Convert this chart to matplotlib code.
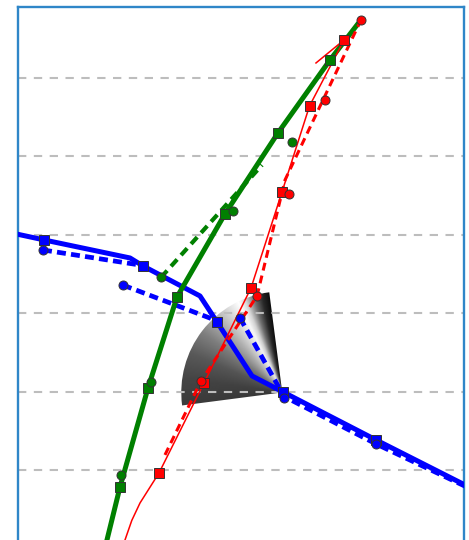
import numpy as np
import matplotlib
matplotlib.use("Agg")
import matplotlib.pyplot as plt
from matplotlib.patches import Wedge
from matplotlib.transforms import ScaledTranslation

# ---- data -------------------------------------------------------------
# blue series: solid path with square markers, dashed path with circles
blue_line_x = [-2.0, 5.93, 25.20, 28.11, 40.87, 44.68, 52.52, 59.46, 80.29, 101.3]
blue_line_y = [40.3, 39.33, 37.03, 36.01, 32.19, 28.88, 22.00, 19.96, 13.85, 7.80]
blue_sq_x = [5.93, 28.11, 44.68, 59.46, 80.29]
blue_sq_y = [39.33, 36.01, 28.88, 19.96, 13.85]
blue_dash_x = [5.71, 27.44, np.nan, 23.63, 44.23, np.nan, 49.83, 59.68, 80.29, 101.3]
blue_dash_y = [38.05, 36.13, np.nan, 33.57, 29.13, np.nan, 29.39, 19.40, 13.34, 7.67]
blue_ci_x = [5.71, 23.63, 49.83, 59.68, 80.29]
blue_ci_y = [38.05, 33.57, 29.39, 19.20, 13.34]

# green series
green_line_x = [19.1, 20.04, 22.96, 29.23, 35.72, 46.47, 58.34, 69.99, 76.04]
green_line_y = [-1.2, 1.11, 7.86, 20.47, 32.06, 42.64, 52.96, 62.25, 66.71]
green_sq_x = [22.96, 29.23, 35.72, 46.47, 58.34, 69.99]
green_sq_y = [7.86, 20.47, 32.06, 42.64, 52.96, 62.25]
green_dash_x = [32.14, 54.76]
green_dash_y = [34.55, 48.87]
green_ci_x = [23.18, 29.79, 32.14, 48.26, 61.48]
green_ci_y = [9.39, 21.17, 34.55, 42.96, 51.81]

# red series
red_line_x = [22.73, 24.08, 25.6, 27.44, 31.69, 41.77, 52.30, 59.24, 65.40, 73.13, np.nan, 66.85, 73.13]
red_line_y = [-0.94, 1.11, 3.6, 5.82, 9.64, 21.11, 33.21, 45.44, 56.39, 64.80, np.nan, 61.87, 64.80]
red_sq_x = [31.69, 41.77, 52.30, 59.24, 65.40, 73.13]
red_sq_y = [9.64, 21.11, 33.21, 45.44, 56.39, 64.80]
red_dash_x = [33.03, 41.10, 53.64, 59.91, 76.93]
red_dash_y = [11.94, 21.36, 32.19, 46.96, 67.35]
red_ci_x = [41.10, 53.64, 60.80, 68.87, 76.93]
red_ci_y = [21.36, 32.19, 45.19, 57.16, 67.35]

# shaded sector anchored on a data point
sector_center = (59.3, 19.9)
sector_theta = (97.4, 187.4)

grid_values = [0, 10, 20, 30, 40, 50, 60]

# ---- figure -----------------------------------------------------------
W, H = 469, 540
fig = plt.figure(figsize=(W / 100, H / 100), dpi=100)
left_px, right_px, top_px = 17.5, 464.0, 7.0
bottom_px = top_px + 70 * 7.85
ax = fig.add_axes([left_px / W, (H - bottom_px) / H,
                   (right_px - left_px) / W, (bottom_px - top_px) / H])
xlim = (0, 100)
ylim = (-1, 69)
ax.set_xlim(*xlim)
ax.set_ylim(*ylim)

for sp in ax.spines.values():
    sp.set_color('#2f86c8')
    sp.set_linewidth(1.7)
ax.set_xticks([])
ax.set_yticks(grid_values)
ax.tick_params(length=0, labelleft=False, labelbottom=False)
ax.set_axisbelow(True)
ax.yaxis.grid(True, color='#bdbdbd', linewidth=1.5, linestyle=(0, (4, 3.6)))

# ---- shaded sector ----------------------------------------------------
radius_in = 1.01
cx_d, cy_d = ax.transData.transform(sector_center)
R = radius_in * fig.dpi
n = 300
gx = np.linspace(cx_d - R, cx_d + R, n)
gy = np.linspace(cy_d - R, cy_d + R, n)
GX, GY = np.meshgrid(gx, gy)
ang = np.degrees(np.arctan2(GY - cy_d, GX - cx_d)) % 360
rad = np.hypot(GX - cx_d, GY - cy_d) / R
ang_pts = [95, 98, 102, 107, 112, 116, 121, 130, 143, 157, 172, 190]
val_pts = [0.02, 0.06, 0.16, 0.45, 0.85, 1.00, 0.90, 0.72, 0.50, 0.35, 0.27, 0.23]
shade = np.interp(ang, ang_pts, val_pts)
shade = shade * (0.9 + 0.1 * np.clip(rad, 0, 1))
inv = ax.transData.inverted()
(x0, y0) = inv.transform((gx[0], gy[0]))
(x1, y1) = inv.transform((gx[-1], gy[-1]))
im = ax.imshow(shade, cmap='gray', vmin=0, vmax=1, origin='lower',
               extent=(x0, x1, y0, y1), aspect='auto', zorder=0.3,
               interpolation='bilinear')
sector = Wedge((0, 0), radius_in, sector_theta[0], sector_theta[1],
               transform=fig.dpi_scale_trans +
               ScaledTranslation(sector_center[0], sector_center[1], ax.transData))
im.set_clip_path(sector)
ax.set_xlim(*xlim)
ax.set_ylim(*ylim)

# ---- series -----------------------------------------------------------
mk = dict(markeredgecolor='#333333', markeredgewidth=0.7, linestyle='none', zorder=6)

ax.plot(blue_line_x, blue_line_y, color='#0000ff', lw=3.6, zorder=3,
        solid_joinstyle='round', solid_capstyle='butt')
ax.plot(blue_dash_x, blue_dash_y, color='#0000ff', lw=3.4, zorder=3,
        linestyle=(0, (1.9, 1.1)), dash_capstyle='butt')
ax.plot(blue_sq_x, blue_sq_y, marker='s', ms=6.5, color='#0000ff', **mk)
ax.plot(blue_ci_x, blue_ci_y, marker='o', ms=6.5, color='#0000ff', **mk)

ax.plot(green_line_x, green_line_y, color='#008000', lw=3.6, zorder=4,
        solid_joinstyle='round')
ax.plot(green_dash_x, green_dash_y, color='#008000', lw=3.0, zorder=4,
        linestyle=(0, (2.2, 1.4)))
ax.plot(green_sq_x, green_sq_y, marker='s', ms=6.5, color='#008000', **mk)
ax.plot(green_ci_x, green_ci_y, marker='o', ms=6.5, color='#008000', **mk)

ax.plot(red_line_x, red_line_y, color='#ff0000', lw=1.1, zorder=5)
ax.plot(red_dash_x, red_dash_y, color='#ff0000', lw=2.2, zorder=5,
        linestyle=(0, (2.6, 1.7)))
ax.plot(red_sq_x, red_sq_y, marker='s', ms=6.5, color='#ff0000', **mk)
ax.plot(red_ci_x, red_ci_y, marker='o', ms=6.5, color='#ff0000', **mk)

fig.savefig('out.png', dpi=100, facecolor='white')
